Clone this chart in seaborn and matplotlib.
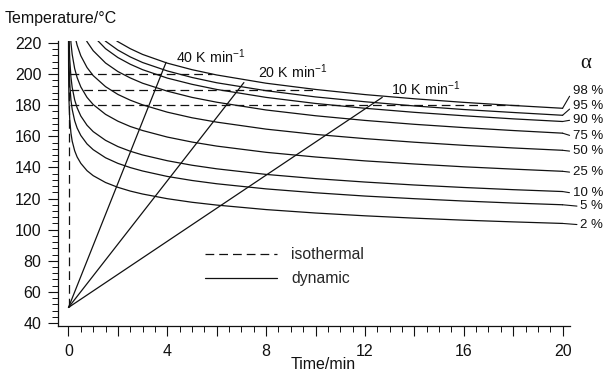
import numpy as np
import pandas as pd
import seaborn as sns
import matplotlib.pyplot as plt
from matplotlib.lines import Line2D
from matplotlib.ticker import MultipleLocator, FuncFormatter

nan = np.nan

# iso-conversion curves, temperature (degC) read at these times (min)
time_min = [0.001, 0.002, 0.005, 0.01, 0.02, 0.05, 0.1, 0.15, 0.25, 0.35, 0.5, 0.75,
            1, 1.5, 2, 2.5, 3, 4, 5, 6, 8, 10, 12, 14, 16, 18, 20]
T_02 = [229.0, 217.6, 203.4, 193.1, 183.3, 170.9, 162.0, 156.9, 150.7, 146.7, 142.6, 137.9,
        134.7, 130.3, 127.2, 124.8, 122.9, 119.9, 117.6, 115.8, 112.9, 110.7, 108.9, 107.4, 106.1, 105.0, 104.0]
T_05 = [nan, nan, 232.6, 220.2, 208.5, 193.8, 183.2, 177.3, 170.0, 165.3, 160.5, 155.1,
        151.4, 146.2, 142.6, 139.9, 137.7, 134.2, 131.6, 129.5, 126.2, 123.7, 121.6, 119.9, 118.4, 117.1, 116.0]
T_10 = [nan, nan, nan, nan, 226.1, 209.7, 198.0, 191.4, 183.4, 178.3, 173.0, 167.1,
        163.0, 157.4, 153.4, 150.4, 148.0, 144.3, 141.4, 139.1, 135.5, 132.8, 130.6, 128.7, 127.1, 125.7, 124.5]
T_25 = [nan, nan, nan, nan, nan, 233.3, 220.0, 212.6, 203.5, 197.7, 191.7, 185.0,
        180.4, 174.1, 169.7, 166.3, 163.7, 159.5, 156.3, 153.7, 149.7, 146.7, 144.2, 142.2, 140.4, 138.9, 137.5]
T_50 = [nan, nan, nan, nan, nan, nan, nan, nan, 225.1, 218.5, 211.7, 204.2,
        199.0, 191.9, 186.9, 183.2, 180.2, 175.5, 171.9, 169.1, 164.6, 161.2, 158.5, 156.2, 154.2, 152.5, 151.0]
T_75 = [nan, nan, nan, nan, nan, nan, nan, nan, nan, nan, 229.2, 220.8,
        215.0, 207.1, 201.6, 197.5, 194.1, 189.0, 185.0, 181.9, 176.9, 173.2, 170.2, 167.7, 165.6, 163.7, 162.0]
T_90 = [nan, nan, nan, nan, nan, nan, nan, nan, nan, nan, nan, nan,
        224.5, 216.3, 210.6, 206.3, 202.8, 197.4, 193.4, 190.1, 185.0, 181.1, 178.0, 175.4, 173.2, 171.2, 169.5]
T_95 = [nan, nan, nan, nan, nan, nan, nan, nan, nan, nan, nan, nan,
        229.6, 221.1, 215.4, 211.0, 207.4, 202.0, 197.8, 194.4, 189.3, 185.3, 182.2, 179.5, 177.2, 175.3, 173.5]
T_98 = [nan, nan, nan, nan, nan, nan, nan, nan, nan, nan, nan, nan,
        nan, 226.6, 220.8, 216.3, 212.6, 207.0, 202.8, 199.4, 194.1, 190.1, 186.8, 184.1, 181.8, 179.8, 178.0]

conversions = ['2 %', '5 %', '10 %', '25 %', '50 %', '75 %', '90 %', '95 %', '98 %']
label_temps = [104.1, 115.9, 124.4, 137.7, 151.2, 160.9, 171.6, 180.3, 190.3]

# dynamic runs: linear heating from start_temp until 98 % conversion
rate_labels = ['40 K min$^{-1}$', '20 K min$^{-1}$', '10 K min$^{-1}$']
dyn_end_time = [3.95, 7.1, 12.7]
dyn_end_temp = [207.5, 194.5, 185.0]
start_temp = 50

# isothermal runs
iso_temps = [200, 190, 180]
iso_end_time = [5.8, 10.0, 18.4]

sns.set_theme(style='ticks')
plt.rcParams['font.family'] = ['Liberation Sans', 'DejaVu Sans']
plt.rcParams.update({
    'mathtext.fontset': 'custom',
    'mathtext.rm': 'Liberation Sans',
    'mathtext.it': 'Liberation Sans:italic',
    'mathtext.default': 'regular',
})

ink = '#111111'
fig = plt.figure(figsize=(6.04, 3.76), dpi=100)
ax = fig.add_axes([0.096, 0.133, 0.8477, 0.757])

# iso-conversion curves
curves = [T_02, T_05, T_10, T_25, T_50, T_75, T_90, T_95, T_98]
frames = [pd.DataFrame({'time': time_min, 'temp': T, 'alpha': a}) for a, T in zip(conversions, curves)]
df_curves = pd.concat(frames).dropna()
sns.lineplot(data=df_curves, x='time', y='temp', units='alpha', estimator=None, sort=False,
             color=ink, lw=0.9, ax=ax, legend=False)

# dynamic heating lines
df_dyn = pd.DataFrame({
    'time': [0] * len(rate_labels) + dyn_end_time,
    'temp': [start_temp] * len(rate_labels) + dyn_end_temp,
    'rate': rate_labels * 2,
})
sns.lineplot(data=df_dyn, x='time', y='temp', units='rate', estimator=None, sort=False,
             color=ink, lw=0.9, ax=ax, legend=False)

# isothermal runs (dashed): heating ramp, then hold
dash = (7, 4)
sns.lineplot(x=[0.03, 0.03], y=[start_temp, max(iso_temps)], estimator=None, sort=False,
             color=ink, lw=0.9, ax=ax, legend=False)
ax.lines[-1].set_dashes(dash)
for T, tend in zip(iso_temps, iso_end_time):
    sns.lineplot(x=[0.08, tend], y=[T, T], estimator=None, sort=False,
                 color=ink, lw=0.9, ax=ax, legend=False)
    ax.lines[-1].set_dashes(dash)

# rate labels
rate_pos = [(4.35, 207.0), (7.67, 197.3), (13.06, 186.6)]
for lab, (tx, ty) in zip(rate_labels, rate_pos):
    ax.text(tx, ty, lab, fontsize=10.3, va='baseline', ha='left', color=ink)

# conversion labels with leader lines
for lab, T, ly in zip(conversions, curves, label_temps):
    ax.annotate(lab, xy=(20, T[-1]), xytext=(21.64, ly), ha='right', va='center_baseline',
                fontsize=9.5, color=ink, annotation_clip=False,
                arrowprops=dict(arrowstyle='-', lw=0.8, color=ink, shrinkA=0, shrinkB=0,
                                relpos=(0, 0.5)))
ax.text(20.95, 207, 'α', fontsize=15, ha='center', va='center', color=ink,
        family=['Liberation Serif', 'DejaVu Serif'], clip_on=False)

# legend
handles = [Line2D([], [], color=ink, lw=0.9, dashes=dash), Line2D([], [], color=ink, lw=0.9)]
ax.legend(handles, ['isothermal', 'dynamic'], loc='center left', bbox_to_anchor=(0.287, 0.208),
          frameon=False, fontsize=11.3, handlelength=4.6, handletextpad=0.9,
          labelspacing=0.6, borderpad=0, borderaxespad=0)

# axes
ax.set_xlim(-0.425, 20.3)
ax.set_ylim(38.1, 221)
ax.xaxis.set_major_locator(MultipleLocator(2))
ax.xaxis.set_minor_locator(MultipleLocator(0.5))
ax.xaxis.set_major_formatter(FuncFormatter(lambda v, p: f'{v:.0f}' if round(v) % 4 == 0 else ''))
ax.yaxis.set_major_locator(MultipleLocator(20))
ax.yaxis.set_minor_locator(MultipleLocator(4))
ax.tick_params(which='major', direction='out', length=7, width=0.8, color=ink,
               labelsize=11.5, labelcolor=ink)
ax.tick_params(which='minor', direction='out', length=4, width=0.7, color=ink)
ax.tick_params(axis='y', which='major', pad=5)
ax.tick_params(axis='x', which='major', pad=6)
sns.despine(ax=ax)
for s in ['left', 'bottom']:
    ax.spines[s].set_color(ink)
    ax.spines[s].set_linewidth(0.9)

ax.set_xlabel('Time/min', fontsize=11.5, color=ink, va='center')
ax.xaxis.set_label_coords(0.518, -0.137)
ax.set_ylabel('Temperature/°C', fontsize=11.5, color=ink, rotation=0, ha='left', va='center')
ax.yaxis.set_label_coords(-0.1035, 1.079)

fig.savefig('out.png', dpi=100)
